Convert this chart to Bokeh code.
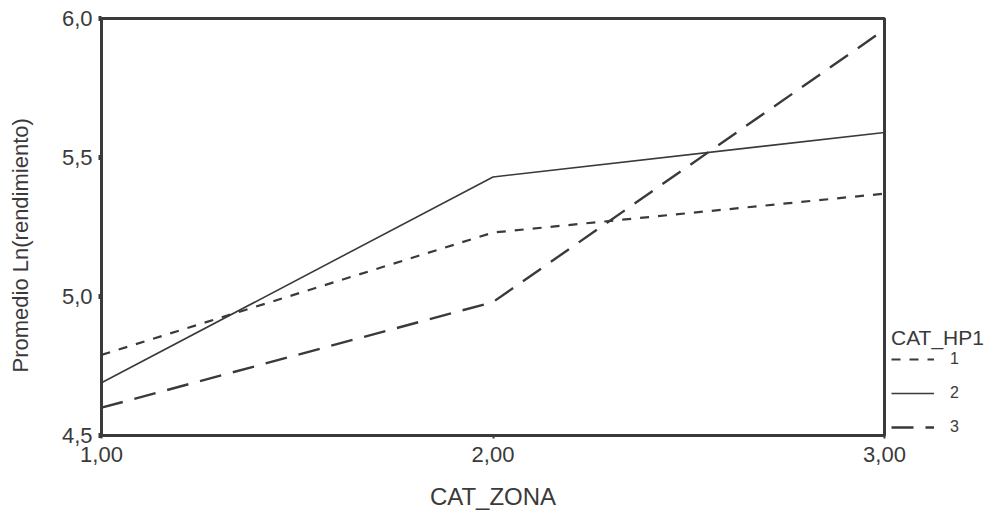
import math
from bokeh.plotting import figure
from bokeh.models import Legend, LegendItem, FixedTicker, Range1d
from bokeh.embed import file_html
from bokeh.resources import INLINE

# Data
zona = [1.0, 2.0, 3.0]
hp1_cat1 = [4.79, 5.23, 5.37]
hp1_cat2 = [4.69, 5.43, 5.59]
hp1_cat3 = [4.60, 4.98, 5.96]
series_labels = ["1", "2", "3"]
x_ticks = [1.0, 2.0, 3.0]
x_tick_labels = ["1,00", "2,00", "3,00"]
y_ticks = [4.5, 5.0, 5.5, 6.0]
y_tick_labels = ["4,5", "5,0", "5,5", "6,0"]
y_title = "Promedio Ln(rendimiento)"
x_title = "CAT_ZONA"
legend_title = "CAT_HP1"

INK = "#3a3a3a"
FONT = "Liberation Sans"

p = figure(frame_width=783, frame_height=417, output_backend="svg", toolbar_location=None,
           x_range=Range1d(1.0, 3.0), y_range=Range1d(4.5, 6.0),
           min_border_left=101, min_border_top=18, min_border_right=0, min_border_bottom=74)
p.grid.visible = False
p.background_fill_color = "white"
p.border_fill_color = "white"
p.outline_line_color = INK
p.outline_line_width = 3

r1 = p.line(zona, hp1_cat1, line_color=INK, line_width=2.2, line_dash="9 9")
r2 = p.line(zona, hp1_cat2, line_color=INK, line_width=1.6)
r3 = p.line(zona, hp1_cat3, line_color=INK, line_width=2.4, line_dash="22 12")

for ax in (p.xaxis[0], p.yaxis[0]):
    ax.axis_line_color = INK
    ax.axis_line_width = 3
    ax.major_tick_line_color = INK
    ax.minor_tick_line_color = None
    ax.major_label_text_font = FONT
    ax.major_label_text_font_size = "22px"
    ax.major_label_text_color = INK
    ax.axis_label_text_font = FONT
    ax.axis_label_text_font_style = "normal"
    ax.axis_label_text_color = INK

p.xaxis.ticker = FixedTicker(ticks=x_ticks)
p.xaxis.major_label_overrides = dict(zip(x_ticks, x_tick_labels))
p.xaxis.major_tick_in = 0
p.xaxis.major_tick_out = 3
p.xaxis.major_tick_line_width = 2
p.xaxis.major_label_standoff = 8
p.xaxis.axis_label = x_title
p.xaxis.axis_label_text_font_size = "24px"
p.xaxis.axis_label_standoff = 18

p.yaxis.ticker = FixedTicker(ticks=y_ticks)
p.yaxis.major_label_overrides = dict(zip(y_ticks, y_tick_labels))
p.yaxis.major_tick_in = 0
p.yaxis.major_tick_out = 3
p.yaxis.major_tick_line_width = 5
p.yaxis.major_label_standoff = 6
# trailing no-break spaces push the visible title a little below the frame centre, as in the reference
p.yaxis.axis_label = y_title + "\u00a0" * 6
p.yaxis.axis_label_text_font_size = "22px"
p.yaxis.axis_label_standoff = 26

legend = Legend(items=[LegendItem(label=series_labels[0], renderers=[r1]),
                       LegendItem(label=series_labels[1], renderers=[r2]),
                       LegendItem(label=series_labels[2], renderers=[r3])],
                location=(7, -1))
legend.title = legend_title
legend.title_text_font = FONT
legend.title_text_font_size = "21px"
legend.title_text_font_style = "normal"
legend.title_text_color = INK
legend.title_standoff = -3
legend.label_text_font = FONT
legend.label_text_font_size = "16px"
legend.label_text_color = INK
legend.glyph_width = 43
legend.glyph_height = 16
legend.label_height = 16
legend.spacing = 16
legend.label_standoff = 16
legend.padding = 6
legend.margin = 0
legend.border_line_color = None
legend.background_fill_alpha = 0
p.add_layout(legend, "right")

open("out.html", "w").write(file_html(p, INLINE))
